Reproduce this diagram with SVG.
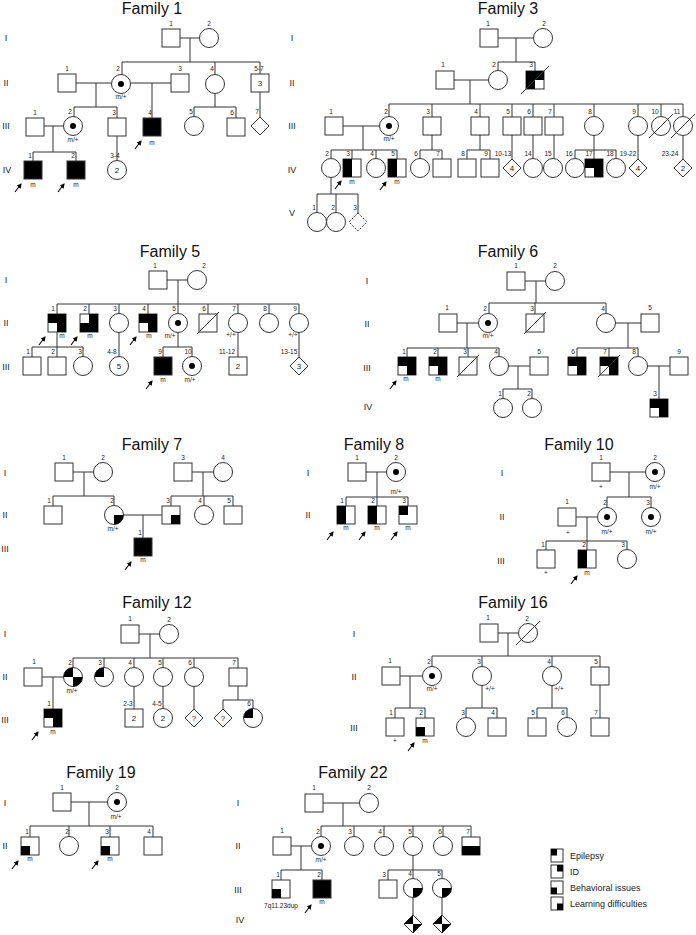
<svg xmlns="http://www.w3.org/2000/svg" width="696" height="935" viewBox="0 0 696 935">
<defs>
<style>
.sym{fill:#fff;stroke:#333;stroke-width:1}
.dsh{fill:#fff;stroke:#333;stroke-width:1;stroke-dasharray:2 1.5}
.blk{fill:#000}
.ln{stroke:#333;stroke-width:1;fill:none}
.sl{stroke:#333;stroke-width:1}
.ttl{font-family:"Liberation Sans",Arial,sans-serif;font-size:16px;text-anchor:middle;fill:#111}
.gen{font-family:"Liberation Sans",Arial,sans-serif;font-size:9px;text-anchor:middle;fill:#222}
.num{font-family:"Liberation Sans",Arial,sans-serif;font-size:6.5px;text-anchor:middle;fill:#222}
.in{font-family:"Liberation Sans",Arial,sans-serif;font-size:8px;text-anchor:middle;fill:#222}
.leg{font-family:"Liberation Sans",Arial,sans-serif;font-size:9px;fill:#222}
.arr{stroke:#000;stroke-width:1.1;marker-end:url(#ah)}
</style>
<marker id="ah" markerWidth="5" markerHeight="5" refX="4" refY="2.5" orient="auto" markerUnits="userSpaceOnUse"><path d="M0,0 L5,2.5 L0,5 z" fill="#000"/></marker>
</defs>
<rect width="696" height="935" fill="#fff"/>

<g id="titles">
<text class="ttl" x="152" y="14">Family 1</text>
<text class="ttl" x="508" y="14">Family 3</text>
<text class="ttl" x="170" y="257">Family 5</text>
<text class="ttl" x="508" y="257">Family 6</text>
<text class="ttl" x="152" y="450">Family 7</text>
<text class="ttl" x="374" y="450">Family 8</text>
<text class="ttl" x="579" y="450">Family 10</text>
<text class="ttl" x="157" y="608">Family 12</text>
<text class="ttl" x="513" y="608">Family 16</text>
<text class="ttl" x="101" y="778">Family 19</text>
<text class="ttl" x="353" y="778">Family 22</text>
</g>

<g id="generations">
<text class="gen" x="6" y="41">I</text><text class="gen" x="6" y="86">II</text><text class="gen" x="6" y="129">III</text><text class="gen" x="7" y="173">IV</text>
<text class="gen" x="292" y="41">I</text><text class="gen" x="292" y="86">II</text><text class="gen" x="292" y="129">III</text><text class="gen" x="292" y="173">IV</text><text class="gen" x="292" y="216">V</text>
<text class="gen" x="6" y="283">I</text><text class="gen" x="6" y="326">II</text><text class="gen" x="6" y="370">III</text>
<text class="gen" x="367" y="284">I</text><text class="gen" x="367" y="327">II</text><text class="gen" x="367" y="371">III</text><text class="gen" x="368" y="410">IV</text>
<text class="gen" x="5" y="476">I</text><text class="gen" x="5" y="518">II</text><text class="gen" x="5" y="552">III</text>
<text class="gen" x="308" y="476">I</text><text class="gen" x="308" y="518">II</text>
<text class="gen" x="502" y="476">I</text><text class="gen" x="502" y="520">II</text><text class="gen" x="501" y="564">III</text>
<text class="gen" x="5" y="637">I</text><text class="gen" x="5" y="680">II</text><text class="gen" x="5" y="723">III</text>
<text class="gen" x="354" y="637">I</text><text class="gen" x="354" y="680">II</text><text class="gen" x="354" y="731">III</text>
<text class="gen" x="5" y="806">I</text><text class="gen" x="5" y="849">II</text>
<text class="gen" x="238" y="806">I</text><text class="gen" x="238" y="849">II</text><text class="gen" x="238" y="893">III</text><text class="gen" x="240" y="923">IV</text>
</g>

<g id="connectors" class="ln">
<path d="M180,38H199.5 M190,38V62 M122,62H260 M122,62V74.5 M215,62V74.5 M260,62V74 M76,83H111.5 M96,83V107 M74,107H117 M74,107V116.5 M117,107V118 M130.5,83H171 M152,83V118 M215,93.5V107 M194,107H236 M194,107V116.5 M236,107V118 M260,92V117 M44,126H63.5 M53,126V152 M33,152H76 M33,152V161 M76,152V161 M117,136V160.5"/>
<path d="M498,38H533.5 M516,38V62 M498,62H535 M498,62V70.5 M535,62V71 M454,80H488.5 M470,80V104 M389,104H683 M389,104V116.5 M432,104V117 M480,104V117 M512,104V117 M533,104V117 M554,104V117 M594,104V116.5 M638,104V116.5 M661,104V116.5 M683,104V116.5 M343,126H379.5 M363,126V150 M331,150H397 M331,150V158.5 M352,150V159 M376,150V158.5 M397,150V159 M432,135V150 M420,150H442 M420,150V158.5 M442,150V159 M480,135V150 M467,150H490 M467,150V159 M490,150V159 M512,135V159 M533,135V158.5 M554,135V158.5 M594,135.5V159 M575,150H616 M575,150V158.5 M616,150V158.5 M638,135.5V159 M683,135.5V159 M331,177.5V194 M317,194H358 M317,194V212.5 M336,194V212.5 M358,194V213"/>
<path d="M167,280H187.5 M178,280V304 M57,304H299 M57,304V314 M89,304V314 M119,304V313.5 M148,304V314 M178,304V313.5 M208,304V314 M238,304V313.5 M269,304V313.5 M299,304V313.5 M57,332V347 M32,347H83 M32,347V357 M57,347V357 M83,347V356.5 M119,332.5V356.5 M178,332.5V347 M163,347H192 M163,347V357 M192,347V356.5 M238,332.5V357 M299,332.5V357"/>
<path d="M525,281H545.5 M536,281V303 M489,303H606 M489,303V313.5 M535,303V314 M606,303V313.5 M457,323H478.5 M467,323V348 M407,348H499 M407,348V357 M438,348V357 M468,348V357 M499,348V356.5 M508.5,366H530 M518,366V389 M503,389H532 M503,389V398.5 M532,389V398.5 M615.5,323H641 M628,323V348 M577,348H638 M577,348V357 M609,348V357 M638,348V356.5 M647.5,366H670 M659,366V399"/>
<path d="M73,472H93.5 M84,472V496 M53,496H114 M53,496V506 M114,496V505.5 M192,472H213.5 M203,472V496 M171,496H233 M171,496V506 M204,496V505.5 M233,496V506 M123.5,515H162 M143,515V538"/>
<path d="M366,472H386.5 M377,472V497 M346,497H408 M346,497V506 M377,497V506 M408,497V506"/>
<path d="M610,472H645.5 M629,472V497 M607,497H651 M607,497V507.5 M651,497V507.5 M576,517H597.5 M587,517V541 M546,541H627 M546,541V550 M587,541V550 M627,541V549.5"/>
<path d="M139,634H159.5 M150,634V658 M73,658H238 M73,658V667.5 M104,658V667.5 M134,658V667.5 M163,658V667.5 M194,658V667.5 M238,658V668 M42,677H63.5 M53,677V709 M134,686.5V709 M163,686.5V708.5 M194,686.5V709 M238,686V700 M223,700H253 M223,700V709 M253,700V708.5"/>
<path d="M498,633H518.5 M508,633V656 M432,656H600 M432,656V666.5 M482,656V666.5 M552,656V666.5 M600,656V667 M400,676H422.5 M410,676V708 M395,708H425 M395,708V718 M425,708V718 M482,685.5V708 M466,708H497 M466,708V717.5 M497,708V718 M552,685.5V708 M537,708H567 M537,708V718 M567,708V717.5 M600,685V718"/>
<path d="M71,802H107.5 M89,802V826 M30,826H153 M30,826V837 M69,826V836.5 M110,826V837 M153,826V837"/>
<path d="M323,803H359.5 M343,803V826 M321,826H471 M321,826V836.5 M354,826V836.5 M384,826V836.5 M413,826V836.5 M443,826V836.5 M471,826V837 M291,846H311.5 M301,846V870 M281,870H322 M281,870V880 M322,870V880 M413,855.5V878.5 M388,870H442 M388,870V880 M442,870V878.5 M413,897.5V915 M442,897.5V915"/>
</g>

<!-- Family 1 -->
<g id="f1-I-1"><rect class="sym" x="162" y="29" width="18" height="18"/><text class="num" x="171" y="26">1</text></g>
<g id="f1-I-2"><circle class="sym" cx="209" cy="38" r="9.5"/><text class="num" x="209" y="26">2</text></g>
<g id="f1-II-1"><rect class="sym" x="58" y="74" width="18" height="18"/><text class="num" x="67" y="71">1</text></g>
<g id="f1-II-2"><circle class="sym" cx="121" cy="84" r="9.5"/><circle class="blk" cx="121" cy="84" r="3"/><text class="num" x="118" y="71">2</text><text class="num" x="121" y="99">m/+</text></g>
<g id="f1-II-3"><rect class="sym" x="171" y="74" width="18" height="18"/><text class="num" x="180" y="71">3</text></g>
<g id="f1-II-4"><circle class="sym" cx="215" cy="84" r="9.5"/><text class="num" x="212" y="71">4</text></g>
<g id="f1-II-5-7"><rect class="sym" x="251" y="74" width="18" height="18"/><text class="in" x="260" y="86">3</text><text class="num" x="259" y="71">5-7</text></g>
<g id="f1-III-1"><rect class="sym" x="26" y="118" width="18" height="18"/><text class="num" x="35" y="115">1</text></g>
<g id="f1-III-2"><circle class="sym" cx="73" cy="126" r="9.5"/><circle class="blk" cx="73" cy="126" r="3"/><text class="num" x="70" y="114">2</text><text class="num" x="73" y="142">m/+</text></g>
<g id="f1-III-3"><rect class="sym" x="108" y="118" width="18" height="18"/><text class="num" x="114" y="115">3</text></g>
<g id="f1-III-4"><rect class="sym blk" x="143" y="118" width="18" height="18"/><text class="num" x="150" y="115">4</text><text class="num" x="152" y="145">m</text><line class="arr" x1="135" y1="149" x2="141" y2="141"/></g>
<g id="f1-III-5"><circle class="sym" cx="194" cy="126" r="9.5"/><text class="num" x="191" y="114">5</text></g>
<g id="f1-III-6"><rect class="sym" x="227" y="118" width="18" height="18"/><text class="num" x="232" y="115">6</text></g>
<g id="f1-III-7"><polygon class="sym" points="260,117 269,126 260,135 251,126"/><text class="num" x="257" y="114">7</text></g>
<g id="f1-IV-1"><rect class="sym blk" x="24" y="161" width="18" height="18"/><text class="num" x="30" y="158">1</text><text class="num" x="33" y="187">m</text><line class="arr" x1="15" y1="192" x2="21" y2="184"/></g>
<g id="f1-IV-2"><rect class="sym blk" x="67" y="161" width="18" height="18"/><text class="num" x="73" y="158">2</text><text class="num" x="76" y="187">m</text><line class="arr" x1="58" y1="192" x2="64" y2="184"/></g>
<g id="f1-IV-3-4"><circle class="sym" cx="117" cy="170" r="9.5"/><text class="in" x="117" y="173">2</text><text class="num" x="115" y="158">3-4</text></g>

<!-- Family 3 -->
<g id="f3-I-1"><rect class="sym" x="480" y="29" width="18" height="18"/><text class="num" x="488" y="26">1</text></g>
<g id="f3-I-2"><circle class="sym" cx="543" cy="38" r="9.5"/><text class="num" x="544" y="26">2</text></g>
<g id="f3-II-1"><rect class="sym" x="436" y="71" width="18" height="18"/><text class="num" x="443" y="67">1</text></g>
<g id="f3-II-2"><circle class="sym" cx="498" cy="80" r="9.5"/><text class="num" x="494" y="67">2</text></g>
<g id="f3-II-3"><rect class="sym" x="526" y="71" width="18" height="18"/><path class="blk" d="M526,71h18v9h-9v9h-9z"/><line class="sl" x1="521" y1="94" x2="549" y2="66"/><text class="num" x="531" y="67">3</text></g>
<g id="f3-III-1"><rect class="sym" x="325" y="117" width="18" height="18"/><text class="num" x="331" y="114">1</text></g>
<g id="f3-III-2"><circle class="sym" cx="389" cy="126" r="9.5"/><circle class="blk" cx="389" cy="126" r="3"/><text class="num" x="386" y="114">2</text><text class="num" x="389" y="141">m/+</text></g>
<g id="f3-III-3"><rect class="sym" x="423" y="117" width="18" height="18"/><text class="num" x="428" y="114">3</text></g>
<g id="f3-III-4"><rect class="sym" x="471" y="117" width="18" height="18"/><text class="num" x="476" y="114">4</text></g>
<g id="f3-III-5"><rect class="sym" x="503" y="117" width="18" height="18"/><text class="num" x="508" y="114">5</text></g>
<g id="f3-III-6"><rect class="sym" x="524" y="117" width="18" height="18"/><text class="num" x="529" y="114">6</text></g>
<g id="f3-III-7"><rect class="sym" x="545" y="117" width="18" height="18"/><text class="num" x="550" y="114">7</text></g>
<g id="f3-III-8"><circle class="sym" cx="594" cy="126" r="9.5"/><text class="num" x="590" y="114">8</text></g>
<g id="f3-III-9"><circle class="sym" cx="638" cy="126" r="9.5"/><text class="num" x="634" y="114">9</text></g>
<g id="f3-III-10"><circle class="sym" cx="661" cy="126" r="9.5"/><line class="sl" x1="649" y1="138" x2="673" y2="114"/><text class="num" x="655" y="114">10</text></g>
<g id="f3-III-11"><circle class="sym" cx="683" cy="126" r="9.5"/><line class="sl" x1="671" y1="138" x2="695" y2="114"/><text class="num" x="677" y="114">11</text></g>
<g id="f3-IV-2"><circle class="sym" cx="331" cy="168" r="9.5"/><text class="num" x="327" y="156">2</text></g>
<g id="f3-IV-3"><rect class="sym" x="343" y="159" width="18" height="18"/><rect class="blk" x="343" y="159" width="9" height="18"/><text class="num" x="348" y="156">3</text><text class="num" x="352" y="184">m</text><line class="arr" x1="335" y1="189" x2="341" y2="181"/></g>
<g id="f3-IV-4"><circle class="sym" cx="376" cy="168" r="9.5"/><text class="num" x="372" y="156">4</text></g>
<g id="f3-IV-5"><rect class="sym" x="388" y="159" width="18" height="18"/><rect class="blk" x="388" y="159" width="9" height="18"/><text class="num" x="393" y="156">5</text><text class="num" x="397" y="184">m</text><line class="arr" x1="380" y1="190" x2="386" y2="182"/></g>
<g id="f3-IV-6"><circle class="sym" cx="420" cy="168" r="9.5"/><text class="num" x="416" y="156">6</text></g>
<g id="f3-IV-7"><rect class="sym" x="433" y="159" width="18" height="18"/><text class="num" x="438" y="156">7</text></g>
<g id="f3-IV-8"><rect class="sym" x="458" y="159" width="18" height="18"/><text class="num" x="463" y="156">8</text></g>
<g id="f3-IV-9"><rect class="sym" x="481" y="159" width="18" height="18"/><text class="num" x="486" y="156">9</text></g>
<g id="f3-IV-10-13"><polygon class="sym" points="512,159 521,168 512,177 503,168"/><text class="in" x="512" y="171">4</text><text class="num" x="503" y="156">10-13</text></g>
<g id="f3-IV-14"><circle class="sym" cx="533" cy="168" r="9.5"/><text class="num" x="528" y="156">14</text></g>
<g id="f3-IV-15"><circle class="sym" cx="553" cy="168" r="9.5"/><text class="num" x="548" y="156">15</text></g>
<g id="f3-IV-16"><circle class="sym" cx="575" cy="168" r="9.5"/><text class="num" x="569" y="156">16</text></g>
<g id="f3-IV-17"><rect class="sym" x="585" y="159" width="18" height="18"/><path class="blk" d="M585,159h18v18h-9v-9h-9z"/><text class="num" x="589" y="156">17</text></g>
<g id="f3-IV-18"><circle class="sym" cx="616" cy="168" r="9.5"/><text class="num" x="610" y="156">18</text></g>
<g id="f3-IV-19-22"><polygon class="sym" points="638,159 647,168 638,177 629,168"/><text class="in" x="638" y="171">4</text><text class="num" x="628" y="156">19-22</text></g>
<g id="f3-IV-23-24"><polygon class="sym" points="683,159 692,168 683,177 674,168"/><text class="in" x="683" y="171">2</text><text class="num" x="670" y="156">23-24</text></g>
<g id="f3-V-1"><circle class="sym" cx="317" cy="222" r="9.5"/><text class="num" x="314" y="210">1</text></g>
<g id="f3-V-2"><circle class="sym" cx="336" cy="222" r="9.5"/><text class="num" x="333" y="210">2</text></g>
<g id="f3-V-3"><polygon class="dsh" points="358,213 367,222 358,231 349,222"/><text class="num" x="355" y="210">3</text></g>

<!-- Family 5 -->
<g id="f5-I-1"><rect class="sym" x="149" y="271" width="18" height="18"/><text class="num" x="155" y="268">1</text></g>
<g id="f5-I-2"><circle class="sym" cx="197" cy="280" r="9.5"/><text class="num" x="204" y="268">2</text></g>
<g id="f5-II-1"><rect class="sym" x="48" y="314" width="18" height="18"/><path class="blk" d="M48,314h18v18h-9v-9h-9z"/><text class="num" x="53" y="311">1</text><text class="num" x="62" y="338">m</text><line class="arr" x1="39" y1="345" x2="45" y2="337"/></g>
<g id="f5-II-2"><rect class="sym" x="80" y="314" width="18" height="18"/><path class="blk" d="M89,314h9v18h-18v-9h9z"/><text class="num" x="85" y="311">2</text><text class="num" x="90" y="338">m</text><line class="arr" x1="71" y1="345" x2="77" y2="337"/></g>
<g id="f5-II-3"><circle class="sym" cx="119" cy="323" r="9.5"/><text class="num" x="115" y="311">3</text></g>
<g id="f5-II-4"><rect class="sym" x="139" y="314" width="18" height="18"/><path class="blk" d="M139,314h18v18h-9v-9h-9z"/><text class="num" x="144" y="311">4</text><text class="num" x="149" y="338">m</text><line class="arr" x1="130" y1="345" x2="136" y2="337"/></g>
<g id="f5-II-5"><circle class="sym" cx="178" cy="323" r="9.5"/><circle class="blk" cx="178" cy="323" r="3"/><text class="num" x="174" y="311">5</text><text class="num" x="170" y="338">m/+</text></g>
<g id="f5-II-6"><rect class="sym" x="199" y="314" width="18" height="18"/><line class="sl" x1="197" y1="334" x2="219" y2="312"/><text class="num" x="204" y="311">6</text></g>
<g id="f5-II-7"><circle class="sym" cx="238" cy="323" r="9.5"/><text class="num" x="234" y="311">7</text><text class="num" x="231" y="337">+/+</text></g>
<g id="f5-II-8"><circle class="sym" cx="269" cy="323" r="9.5"/><text class="num" x="265" y="311">8</text></g>
<g id="f5-II-9"><circle class="sym" cx="299" cy="323" r="9.5"/><text class="num" x="295" y="311">9</text><text class="num" x="293" y="337">+/+</text></g>
<g id="f5-III-1"><rect class="sym" x="23" y="357" width="18" height="18"/><text class="num" x="28" y="354">1</text></g>
<g id="f5-III-2"><rect class="sym" x="48" y="357" width="18" height="18"/><text class="num" x="53" y="354">2</text></g>
<g id="f5-III-3"><circle class="sym" cx="83" cy="366" r="9.5"/><text class="num" x="80" y="354">3</text></g>
<g id="f5-III-4-8"><circle class="sym" cx="119" cy="366" r="9.5"/><text class="in" x="119" y="369">5</text><text class="num" x="112" y="354">4-8</text></g>
<g id="f5-III-9"><rect class="sym blk" x="154" y="357" width="18" height="18"/><text class="num" x="160" y="354">9</text><text class="num" x="163" y="382">m</text><line class="arr" x1="146" y1="389" x2="152" y2="381"/></g>
<g id="f5-III-10"><circle class="sym" cx="192" cy="366" r="9.5"/><circle class="blk" cx="192" cy="366" r="3"/><text class="num" x="188" y="354">10</text><text class="num" x="190" y="382">m/+</text></g>
<g id="f5-III-11-12"><rect class="sym" x="229" y="357" width="18" height="18"/><text class="in" x="238" y="369">2</text><text class="num" x="227" y="354">11-12</text></g>
<g id="f5-III-13-15"><polygon class="sym" points="299,357 308,366 299,375 290,366"/><text class="in" x="299" y="369">3</text><text class="num" x="289" y="354">13-15</text></g>

<!-- Family 6 -->
<g id="f6-I-1"><rect class="sym" x="507" y="272" width="18" height="18"/><text class="num" x="516" y="268">1</text></g>
<g id="f6-I-2"><circle class="sym" cx="555" cy="281" r="9.5"/><text class="num" x="555" y="268">2</text></g>
<g id="f6-II-1"><rect class="sym" x="439" y="314" width="18" height="18"/><text class="num" x="447" y="310">1</text></g>
<g id="f6-II-2"><circle class="sym" cx="488" cy="323" r="9.5"/><circle class="blk" cx="488" cy="323" r="3"/><text class="num" x="485" y="311">2</text><text class="num" x="488" y="338">m/+</text></g>
<g id="f6-II-3"><rect class="sym" x="526" y="314" width="18" height="18"/><line class="sl" x1="524" y1="334" x2="546" y2="312"/><text class="num" x="532" y="311">3</text></g>
<g id="f6-II-4"><circle class="sym" cx="606" cy="323" r="9.5"/><text class="num" x="603" y="311">4</text></g>
<g id="f6-II-5"><rect class="sym" x="641" y="314" width="18" height="18"/><text class="num" x="650" y="310">5</text></g>
<g id="f6-III-1"><rect class="sym" x="398" y="357" width="18" height="18"/><path class="blk" d="M398,357h18v18h-9v-9h-9z"/><text class="num" x="404" y="354">1</text><text class="num" x="406" y="381">m</text><line class="arr" x1="390" y1="389" x2="396" y2="381"/></g>
<g id="f6-III-2"><rect class="sym" x="429" y="357" width="18" height="18"/><path class="blk" d="M429,357h18v18h-9v-9h-9z"/><text class="num" x="435" y="354">2</text><text class="num" x="438" y="381">m</text></g>
<g id="f6-III-3"><rect class="sym" x="459" y="357" width="18" height="18"/><line class="sl" x1="457" y1="377" x2="479" y2="355"/><text class="num" x="465" y="354">3</text></g>
<g id="f6-III-4"><circle class="sym" cx="499" cy="366" r="9.5"/><text class="num" x="496" y="354">4</text></g>
<g id="f6-III-5"><rect class="sym" x="530" y="357" width="18" height="18"/><text class="num" x="539" y="354">5</text></g>
<g id="f6-III-6"><rect class="sym" x="568" y="357" width="18" height="18"/><path class="blk" d="M568,357h18v18h-9v-9h-9z"/><text class="num" x="573" y="354">6</text></g>
<g id="f6-III-7"><rect class="sym" x="600" y="357" width="18" height="18"/><path class="blk" d="M600,357h18v18h-9v-9h-9z"/><line class="sl" x1="598" y1="377" x2="620" y2="355"/><text class="num" x="605" y="354">7</text></g>
<g id="f6-III-8"><circle class="sym" cx="638" cy="366" r="9.5"/><text class="num" x="634" y="354">8</text></g>
<g id="f6-III-9"><rect class="sym" x="670" y="357" width="18" height="18"/><text class="num" x="679" y="354">9</text></g>
<g id="f6-IV-1"><circle class="sym" cx="503" cy="408" r="9.5"/><text class="num" x="500" y="396">1</text></g>
<g id="f6-IV-2"><circle class="sym" cx="532" cy="408" r="9.5"/><text class="num" x="529" y="396">2</text></g>
<g id="f6-IV-3"><rect class="sym" x="650" y="399" width="18" height="18"/><path class="blk" d="M650,399h18v18h-9v-9h-9z"/><text class="num" x="655" y="396">3</text></g>

<!-- Family 7 -->
<g id="f7-I-1"><rect class="sym" x="55" y="463" width="18" height="18"/><text class="num" x="64" y="460">1</text></g>
<g id="f7-I-2"><circle class="sym" cx="103" cy="472" r="9.5"/><text class="num" x="103" y="460">2</text></g>
<g id="f7-I-3"><rect class="sym" x="174" y="463" width="18" height="18"/><text class="num" x="183" y="460">3</text></g>
<g id="f7-I-4"><circle class="sym" cx="223" cy="472" r="9.5"/><text class="num" x="223" y="460">4</text></g>
<g id="f7-II-1"><rect class="sym" x="44" y="506" width="18" height="18"/><text class="num" x="49" y="503">1</text></g>
<g id="f7-II-2"><circle class="sym" cx="114" cy="515" r="9.5"/><path class="blk" d="M114,515h9.5a9.5,9.5 0 0 1 -9.5,9.5z"/><text class="num" x="112" y="503">2</text><text class="num" x="113" y="531">m/+</text></g>
<g id="f7-II-3"><rect class="sym" x="162" y="506" width="18" height="18"/><rect class="blk" x="171" y="515" width="9" height="9"/><text class="num" x="168" y="503">3</text></g>
<g id="f7-II-4"><circle class="sym" cx="204" cy="515" r="9.5"/><text class="num" x="200" y="503">4</text></g>
<g id="f7-II-5"><rect class="sym" x="224" y="506" width="18" height="18"/><text class="num" x="229" y="503">5</text></g>
<g id="f7-III-1"><rect class="sym blk" x="134" y="538" width="18" height="18"/><text class="num" x="140" y="535">1</text><text class="num" x="143" y="562">m</text><line class="arr" x1="125" y1="570" x2="131" y2="562"/></g>

<!-- Family 8 -->
<g id="f8-I-1"><rect class="sym" x="348" y="463" width="18" height="18"/><text class="num" x="357" y="460">1</text></g>
<g id="f8-I-2"><circle class="sym" cx="396" cy="472" r="9.5"/><circle class="blk" cx="396" cy="472" r="3"/><text class="num" x="396" y="460">2</text><text class="num" x="396" y="494">m/+</text></g>
<g id="f8-II-1"><rect class="sym" x="337" y="506" width="18" height="18"/><rect class="blk" x="337" y="506" width="9" height="18"/><text class="num" x="342" y="503">1</text><text class="num" x="346" y="530">m</text><line class="arr" x1="327" y1="540" x2="333" y2="532"/></g>
<g id="f8-II-2"><rect class="sym" x="368" y="506" width="18" height="18"/><rect class="blk" x="368" y="506" width="9" height="18"/><text class="num" x="373" y="503">2</text><text class="num" x="377" y="530">m</text><line class="arr" x1="359" y1="540" x2="365" y2="532"/></g>
<g id="f8-II-3"><rect class="sym" x="399" y="506" width="18" height="18"/><rect class="blk" x="399" y="506" width="9" height="9"/><text class="num" x="404" y="503">3</text><text class="num" x="408" y="530">m</text><line class="arr" x1="391" y1="540" x2="397" y2="532"/></g>

<!-- Family 10 -->
<g id="f10-I-1"><rect class="sym" x="592" y="463" width="18" height="18"/><text class="num" x="601" y="460">1</text><text class="num" x="601" y="489">+</text></g>
<g id="f10-I-2"><circle class="sym" cx="655" cy="472" r="9.5"/><circle class="blk" cx="655" cy="472" r="3"/><text class="num" x="655" y="460">2</text><text class="num" x="655" y="489">m/+</text></g>
<g id="f10-II-1"><rect class="sym" x="558" y="508" width="18" height="18"/><text class="num" x="567" y="504">1</text><text class="num" x="568" y="535">+</text></g>
<g id="f10-II-2"><circle class="sym" cx="607" cy="517" r="9.5"/><circle class="blk" cx="607" cy="517" r="3"/><text class="num" x="605" y="505">2</text><text class="num" x="607" y="534">m/+</text></g>
<g id="f10-II-3"><circle class="sym" cx="651" cy="517" r="9.5"/><circle class="blk" cx="651" cy="517" r="3"/><text class="num" x="648" y="505">3</text><text class="num" x="651" y="534">m/+</text></g>
<g id="f10-III-1"><rect class="sym" x="537" y="550" width="18" height="18"/><text class="num" x="543" y="547">1</text><text class="num" x="546" y="575">+</text></g>
<g id="f10-III-2"><rect class="sym" x="578" y="550" width="18" height="18"/><rect class="blk" x="578" y="550" width="9" height="18"/><text class="num" x="584" y="547">2</text><text class="num" x="587" y="575">m</text><line class="arr" x1="571" y1="584" x2="577" y2="576"/></g>
<g id="f10-III-3"><circle class="sym" cx="627" cy="559" r="9.5"/><text class="num" x="623" y="547">3</text></g>

<!-- Family 12 -->
<g id="f12-I-1"><rect class="sym" x="121" y="625" width="18" height="18"/><text class="num" x="130" y="621">1</text></g>
<g id="f12-I-2"><circle class="sym" cx="169" cy="634" r="9.5"/><text class="num" x="169" y="622">2</text></g>
<g id="f12-II-1"><rect class="sym" x="24" y="668" width="18" height="18"/><text class="num" x="34" y="664">1</text></g>
<g id="f12-II-2"><circle class="sym" cx="73" cy="677" r="9.5"/><path class="blk" d="M73,677h-9.5a9.5,9.5 0 0 1 9.5,-9.5z M73,677h9.5a9.5,9.5 0 0 1 -9.5,9.5z"/><text class="num" x="70" y="665">2</text><text class="num" x="72" y="693">m/+</text></g>
<g id="f12-II-3"><circle class="sym" cx="104" cy="677" r="9.5"/><path class="blk" d="M104,677h-9.5a9.5,9.5 0 0 1 9.5,-9.5z"/><text class="num" x="100" y="665">3</text></g>
<g id="f12-II-4"><circle class="sym" cx="134" cy="677" r="9.5"/><text class="num" x="130" y="665">4</text></g>
<g id="f12-II-5"><circle class="sym" cx="163" cy="677" r="9.5"/><text class="num" x="160" y="665">5</text></g>
<g id="f12-II-6"><circle class="sym" cx="194" cy="677" r="9.5"/><text class="num" x="190" y="665">6</text></g>
<g id="f12-II-7"><rect class="sym" x="229" y="668" width="18" height="18"/><text class="num" x="234" y="665">7</text></g>
<g id="f12-III-1"><rect class="sym" x="44" y="709" width="18" height="18"/><path class="blk" d="M44,709h18v18h-9v-9h-9z"/><text class="num" x="49" y="706">1</text><text class="num" x="53" y="734">m</text><line class="arr" x1="32" y1="740" x2="38" y2="732"/></g>
<g id="f12-III-2-3"><rect class="sym" x="125" y="709" width="18" height="18"/><text class="in" x="134" y="721">2</text><text class="num" x="128" y="706">2-3</text></g>
<g id="f12-III-4-5"><circle class="sym" cx="163" cy="718" r="9.5"/><text class="in" x="163" y="721">2</text><text class="num" x="157" y="706">4-5</text></g>
<g id="f12-III-u1"><polygon class="sym" points="194,709 203,718 194,727 185,718"/><text class="in" x="194" y="721">?</text></g>
<g id="f12-III-u2"><polygon class="sym" points="223,709 232,718 223,727 214,718"/><text class="in" x="223" y="721">?</text></g>
<g id="f12-III-6"><circle class="sym" cx="253" cy="718" r="9.5"/><path class="blk" d="M253,718h-9.5a9.5,9.5 0 0 1 9.5,-9.5z"/><text class="num" x="249" y="706">6</text></g>

<!-- Family 16 -->
<g id="f16-I-1"><rect class="sym" x="480" y="624" width="18" height="18"/><text class="num" x="488" y="620">1</text></g>
<g id="f16-I-2"><circle class="sym" cx="528" cy="633" r="9.5"/><line class="sl" x1="516" y1="645" x2="540" y2="621"/><text class="num" x="527" y="621">2</text></g>
<g id="f16-II-1"><rect class="sym" x="382" y="667" width="18" height="18"/><text class="num" x="390" y="663">1</text></g>
<g id="f16-II-2"><circle class="sym" cx="432" cy="676" r="9.5"/><circle class="blk" cx="432" cy="676" r="3"/><text class="num" x="429" y="664">2</text><text class="num" x="432" y="691">m/+</text></g>
<g id="f16-II-3"><circle class="sym" cx="482" cy="676" r="9.5"/><text class="num" x="479" y="664">3</text><text class="num" x="490" y="691">+/+</text></g>
<g id="f16-II-4"><circle class="sym" cx="552" cy="676" r="9.5"/><text class="num" x="549" y="664">4</text><text class="num" x="559" y="691">+/+</text></g>
<g id="f16-II-5"><rect class="sym" x="591" y="667" width="18" height="18"/><text class="num" x="596" y="664">5</text></g>
<g id="f16-III-1"><rect class="sym" x="386" y="718" width="18" height="18"/><text class="num" x="391" y="715">1</text><text class="num" x="395" y="743">+</text></g>
<g id="f16-III-2"><rect class="sym" x="416" y="718" width="18" height="18"/><rect class="blk" x="416" y="727" width="9" height="9"/><text class="num" x="421" y="715">2</text><text class="num" x="425" y="743">m</text><line class="arr" x1="408" y1="751" x2="414" y2="743"/></g>
<g id="f16-III-3"><circle class="sym" cx="466" cy="727" r="9.5"/><text class="num" x="463" y="715">3</text></g>
<g id="f16-III-4"><rect class="sym" x="488" y="718" width="18" height="18"/><text class="num" x="493" y="715">4</text></g>
<g id="f16-III-5"><rect class="sym" x="528" y="718" width="18" height="18"/><text class="num" x="533" y="715">5</text></g>
<g id="f16-III-6"><circle class="sym" cx="567" cy="727" r="9.5"/><text class="num" x="563" y="715">6</text></g>
<g id="f16-III-7"><rect class="sym" x="591" y="718" width="18" height="18"/><text class="num" x="596" y="715">7</text></g>

<!-- Family 19 -->
<g id="f19-I-1"><rect class="sym" x="53" y="793" width="18" height="18"/><text class="num" x="62" y="790">1</text></g>
<g id="f19-I-2"><circle class="sym" cx="117" cy="802" r="9.5"/><circle class="blk" cx="117" cy="802" r="3"/><text class="num" x="117" y="790">2</text><text class="num" x="116" y="819">m/+</text></g>
<g id="f19-II-1"><rect class="sym" x="21" y="837" width="18" height="18"/><rect class="blk" x="21" y="846" width="9" height="9"/><text class="num" x="27" y="834">1</text><text class="num" x="30" y="861">m</text><line class="arr" x1="12" y1="869" x2="18" y2="861"/></g>
<g id="f19-II-2"><circle class="sym" cx="69" cy="846" r="9.5"/><text class="num" x="67" y="834">2</text></g>
<g id="f19-II-3"><rect class="sym" x="101" y="837" width="18" height="18"/><rect class="blk" x="101" y="846" width="9" height="9"/><text class="num" x="107" y="834">3</text><text class="num" x="110" y="861">m</text><line class="arr" x1="92" y1="869" x2="98" y2="861"/></g>
<g id="f19-II-4"><rect class="sym" x="144" y="837" width="18" height="18"/><text class="num" x="149" y="834">4</text></g>

<!-- Family 22 -->
<g id="f22-I-1"><rect class="sym" x="305" y="794" width="18" height="18"/><text class="num" x="314" y="790">1</text></g>
<g id="f22-I-2"><circle class="sym" cx="369" cy="803" r="9.5"/><text class="num" x="369" y="790">2</text></g>
<g id="f22-II-1"><rect class="sym" x="273" y="837" width="18" height="18"/><text class="num" x="282" y="833">1</text></g>
<g id="f22-II-2"><circle class="sym" cx="321" cy="846" r="9.5"/><circle class="blk" cx="321" cy="846" r="3"/><text class="num" x="318" y="834">2</text><text class="num" x="321" y="862">m/+</text></g>
<g id="f22-II-3"><circle class="sym" cx="354" cy="846" r="9.5"/><text class="num" x="350" y="834">3</text></g>
<g id="f22-II-4"><circle class="sym" cx="384" cy="846" r="9.5"/><text class="num" x="380" y="834">4</text></g>
<g id="f22-II-5"><circle class="sym" cx="413" cy="846" r="9.5"/><text class="num" x="410" y="834">5</text></g>
<g id="f22-II-6"><circle class="sym" cx="443" cy="846" r="9.5"/><text class="num" x="440" y="834">6</text></g>
<g id="f22-II-7"><rect class="sym" x="462" y="837" width="18" height="18"/><rect class="blk" x="462" y="846" width="18" height="9"/><text class="num" x="468" y="834">7</text></g>
<g id="f22-III-1"><rect class="sym" x="272" y="880" width="18" height="18"/><rect class="blk" x="272" y="889" width="9" height="9"/><text class="num" x="278" y="877">1</text><text class="num" x="281" y="908">7q11.23dup</text></g>
<g id="f22-III-2"><rect class="sym blk" x="313" y="880" width="18" height="18"/><text class="num" x="319" y="877">2</text><text class="num" x="322" y="904">m</text><line class="arr" x1="305" y1="913" x2="311" y2="905"/></g>
<g id="f22-III-3"><rect class="sym" x="379" y="880" width="18" height="18"/><text class="num" x="384" y="877">3</text></g>
<g id="f22-III-4"><circle class="sym" cx="413" cy="888" r="9.5"/><path class="blk" d="M413,888h9.5a9.5,9.5 0 0 1 -9.5,9.5z"/><text class="num" x="410" y="876">4</text></g>
<g id="f22-III-5"><circle class="sym" cx="442" cy="888" r="9.5"/><path class="blk" d="M442,888h9.5a9.5,9.5 0 0 1 -9.5,9.5z"/><text class="num" x="439" y="876">5</text></g>
<g id="f22-IV-1"><polygon class="sym" points="413,915 422,924 413,933 404,924"/><path class="blk" d="M413,924H404L413,915z M413,924H422L413,933z"/></g>
<g id="f22-IV-2"><polygon class="sym" points="442,915 451,924 442,933 433,924"/><path class="blk" d="M442,924H433L442,915z M442,924H451L442,933z"/></g>

<!-- Legend -->
<g id="legend">
<rect class="sym" x="551" y="849" width="12" height="13"/><rect class="blk" x="551" y="849" width="6" height="6.5"/><text class="leg" x="570" y="859">Epilepsy</text>
<rect class="sym" x="551" y="865" width="12" height="13"/><rect class="blk" x="557" y="865" width="6" height="6.5"/><text class="leg" x="570" y="875">ID</text>
<rect class="sym" x="551" y="881" width="12" height="13"/><rect class="blk" x="551" y="887.5" width="6" height="6.5"/><text class="leg" x="570" y="891">Behavioral issues</text>
<rect class="sym" x="551" y="897" width="12" height="13"/><rect class="blk" x="557" y="903.5" width="6" height="6.5"/><text class="leg" x="570" y="907">Learning difficulties</text>
</g>
</svg>
